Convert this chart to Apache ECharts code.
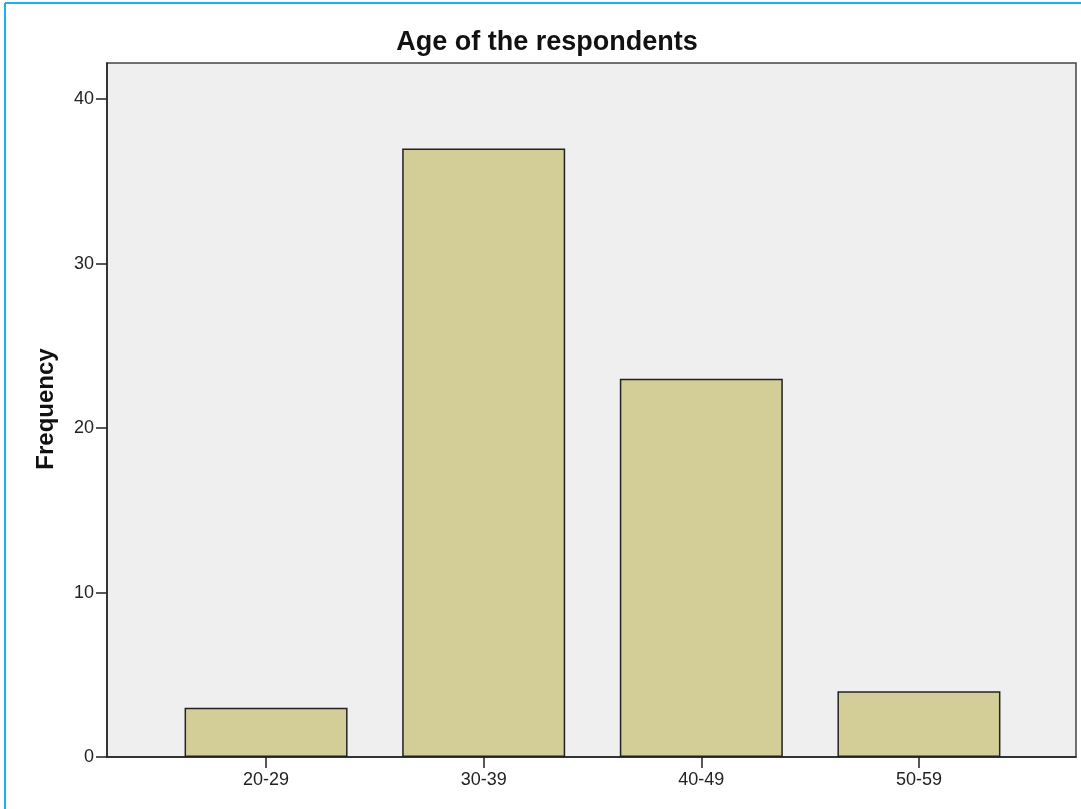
<!DOCTYPE html>
<html>
<head>
<meta charset="utf-8">
<script src="https://cdn.jsdelivr.net/npm/echarts@6/dist/echarts.min.js"></script>
<style>
html,body{margin:0;padding:0;background:#fff;}
#c{width:1081px;height:809px;}
</style>
</head>
<body>
<div id="c"></div>
<script>
const categories = ['20-29', '30-39', '40-49', '50-59'];
const frequency = [3, 37, 23, 4];
const yTicks = [0, 10, 20, 30, 40];
const titleText = 'Age of the respondents';
const yAxisName = 'Frequency';

const chart = echarts.init(document.getElementById('c'), null, {renderer: 'canvas'});
const font = '"Liberation Sans", Arial, sans-serif';
const yMax = 42.2;

chart.setOption({
  animation: false,
  graphic: [
    {type: 'line', shape: {x1: 5, y1: 3, x2: 1081, y2: 3}, style: {stroke: '#1ab2ea', lineWidth: 2}},
    {type: 'line', shape: {x1: 5, y1: 3, x2: 5, y2: 809}, style: {stroke: '#1ab2ea', lineWidth: 2}},
    {type: 'text', x: 547, y: 43, style: {text: titleText, font: 'bold 27px ' + font, fill: '#111', align: 'center', verticalAlign: 'middle'}},
    {type: 'text', x: 46, y: 409, rotation: Math.PI / 2, style: {text: yAxisName, font: 'bold 24px ' + font, fill: '#111', align: 'center', verticalAlign: 'middle'}}
  ],
  grid: [
    {left: 107, top: 63, width: 969, height: 694, show: true, backgroundColor: '#efefef', borderColor: '#444', borderWidth: 1.5, containLabel: false},
    {left: 157.25, top: 63, width: 870.5, height: 694, containLabel: false}
  ],
  xAxis: [
    {gridIndex: 0, type: 'value', min: 0, max: 1, show: true,
     axisLine: {show: true, lineStyle: {color: '#222', width: 1.5}},
     axisTick: {show: false}, axisLabel: {show: false}, splitLine: {show: false}},
    {gridIndex: 1, type: 'category', data: categories,
     axisLine: {show: false},
     axisTick: {show: true, alignWithLabel: true, length: 11, lineStyle: {color: '#222', width: 1.5}},
     axisLabel: {fontFamily: font, fontSize: 18, color: '#222', margin: 14},
     splitLine: {show: false}}
  ],
  yAxis: [
    {gridIndex: 0, type: 'value', min: 0, max: yMax, interval: 10,
     axisLine: {show: true, lineStyle: {color: '#222', width: 1.5}},
     axisTick: {show: true, length: 11, customValues: yTicks, lineStyle: {color: '#222', width: 1.5}},
     axisLabel: {fontFamily: font, fontSize: 18, color: '#222', margin: 13,
       formatter: function (v) { return yTicks.indexOf(v) >= 0 ? String(v) : ''; }},
     splitLine: {show: false}},
    {gridIndex: 1, type: 'value', min: 0, max: yMax, show: false, splitLine: {show: false}}
  ],
  series: [{
    type: 'bar', xAxisIndex: 1, yAxisIndex: 1,
    data: frequency, barWidth: 163,
    itemStyle: {color: '#d3ce97', borderColor: '#222', borderWidth: 1.5}
  }]
});
</script>
</body>
</html>
